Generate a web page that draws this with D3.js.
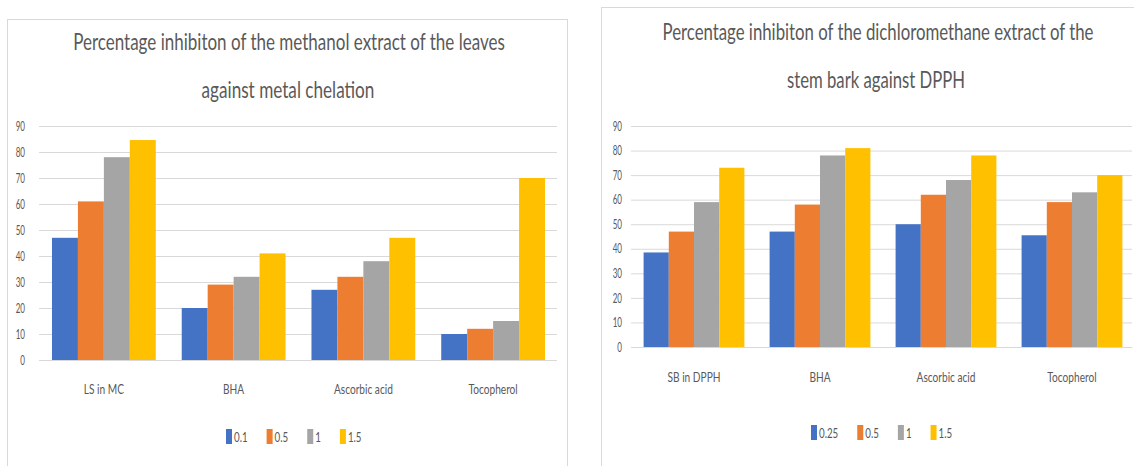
<!DOCTYPE html>
<html>
<head>
<meta charset="utf-8">
<script src="https://cdn.jsdelivr.net/npm/d3@7/dist/d3.min.js"></script>
<style>
    body { margin: 0; background: #fff; }
    text { font-family: Lato, "Liberation Sans", sans-serif; fill: #595959; }
    .grid line { stroke: #d9d9d9; }
    .grid path { display: none; }
</style>
</head>
<body>
<div id="chart-area"></div>
<script>

// ---- data ----
var leftTitle = ["Percentage inhibiton of the methanol extract of the leaves", "against metal chelation"];
var leftCategories = ["LS in MC", "BHA", "Ascorbic acid", "Tocopherol"];
var leftKeys = ["0.1", "0.5", "1", "1.5"];
var leftValues = [
    [47, 20, 27, 10],   // 0.1
    [61, 29, 32, 12],   // 0.5
    [78, 32, 38, 15],   // 1
    [84.6, 41, 47, 70]  // 1.5
];

var rightTitle = ["Percentage inhibiton of the dichloromethane extract of the", "stem bark against DPPH"];
var rightCategories = ["SB in DPPH", "BHA", "Ascorbic acid", "Tocopherol"];
var rightKeys = ["0.25", "0.5", "1", "1.5"];
var rightValues = [
    [38.5, 47, 50, 45.5], // 0.25
    [47, 58, 62, 59],     // 0.5
    [59, 78, 68, 63],     // 1
    [73, 81, 78, 70]      // 1.5
];

var yTicks = [0, 10, 20, 30, 40, 50, 60, 70, 80, 90];
var colors = ["#4472c4", "#ed7d31", "#a5a5a5", "#ffc000"];


var svg = d3.select("#chart-area").append("svg")
    .attr("width", 1134)
    .attr("height", 466);

// squeeze text horizontally (the source image is narrow)
function squeeze(sel, sx) {
    sel.each(function() {
        var t = d3.select(this);
        var x = +t.attr("x") || 0;
        t.attr("x", x / sx).attr("transform", "scale(" + sx + ",1)");
    });
}


GroupedBar = function(opts) {
    this.opts = opts;
    this.initVis();
};

GroupedBar.prototype.initVis = function() {
    var vis = this, o = vis.opts;

    // panel frame
    svg.append("rect")
        .attr("x", o.frame[0] + 0.5)
        .attr("y", o.frame[1] + 0.5)
        .attr("width", o.frame[2])
        .attr("height", o.frame[3])
        .attr("fill", "#fff")
        .attr("stroke", "#d9d9d9");

    // title, two lines, squeezed to the measured width
    o.title.forEach(function(line, i) {
        var t = svg.append("text")
            .attr("x", o.titleX[i])
            .attr("y", o.titleY[i])
            .attr("text-anchor", "middle")
            .attr("font-size", 23)
            .text(line);
        squeeze(t, o.titleW[i] / t.node().getComputedTextLength());
    });

    vis.x0 = d3.scaleBand()
        .domain(o.categories)
        .range(o.xRange);

    var bw = vis.x0.bandwidth();
    vis.x1 = d3.scaleBand()
        .domain(o.keys)
        .range([bw * 0.1, bw * 0.9]);

    vis.y = d3.scaleLinear()
        .domain([0, 90])
        .range(o.yRange);

    // gridlines + y labels
    var gy = svg.append("g")
        .attr("class", "grid")
        .attr("transform", "translate(" + o.xRange[0] + ",0)")
        .call(d3.axisLeft(vis.y)
            .tickValues(yTicks)
            .tickSize(-(o.gridEnd - o.xRange[0]))
            .tickPadding(o.yPad));
    gy.selectAll("text").attr("font-size", 13).attr("fill", "#595959");
    squeeze(gy.selectAll("text"), 0.62);

    // bars
    var rows = o.categories.map(function(c, ci) {
        return o.keys.map(function(k, ki) {
            return { cat: c, key: k, ki: ki, value: o.values[ki][ci] };
        });
    });

    svg.append("g").selectAll("g")
        .data(rows)
        .enter().append("g")
        .attr("transform", function(d) { return "translate(" + vis.x0(d[0].cat) + ",0)"; })
        .selectAll("rect")
        .data(function(d) { return d; })
        .enter().append("rect")
        .attr("x", function(d) { return vis.x1(d.key); })
        .attr("width", vis.x1.bandwidth())
        .attr("y", function(d) { return vis.y(d.value); })
        .attr("height", function(d) { return vis.y(0) - vis.y(d.value); })
        .attr("fill", function(d) { return colors[d.ki]; });

    // category labels
    var gx = svg.append("g")
        .attr("transform", "translate(0," + o.yRange[0] + ")")
        .call(d3.axisBottom(vis.x0).tickSize(0).tickPadding(o.xPad));
    gx.select(".domain").remove();
    gx.selectAll("text").attr("font-size", 13).attr("fill", "#595959");
    squeeze(gx.selectAll("text"), 0.78);

    // legend
    var leg = svg.append("g")
        .attr("transform", "translate(" + o.legend[0] + "," + o.legend[1] + ")");
    var cx = 0;
    o.keys.forEach(function(k, i) {
        leg.append("rect")
            .attr("x", cx)
            .attr("y", -8)
            .attr("width", 6)
            .attr("height", 15)
            .attr("fill", colors[i]);
        var t = leg.append("text")
            .attr("x", cx + 8)
            .attr("y", 5)
            .attr("font-size", 13)
            .text(k);
        squeeze(t, 0.75);
        cx += 8 + t.node().getComputedTextLength() * 0.75 + o.legendGap;
    });
};


new GroupedBar({
    frame: [7, 19, 560, 460],
    title: leftTitle, titleX: [289, 288], titleY: [50, 98], titleW: [432, 173],
    categories: leftCategories, keys: leftKeys, values: leftValues,
    xRange: [39, 558], yRange: [360, 126], gridEnd: 557,
    yPad: 14, xPad: 25,
    legend: [226, 437], legendGap: 19
});

new GroupedBar({
    frame: [601, 7, 540, 470],
    title: rightTitle, titleX: [878, 876], titleY: [40, 88], titleW: [431, 178],
    categories: rightCategories, keys: rightKeys, values: rightValues,
    xRange: [631, 1135], yRange: [347, 126], gridEnd: 1132,
    yPad: 9, xPad: 26,
    legend: [811, 433], legendGap: 19
});

</script>
</body>
</html>
